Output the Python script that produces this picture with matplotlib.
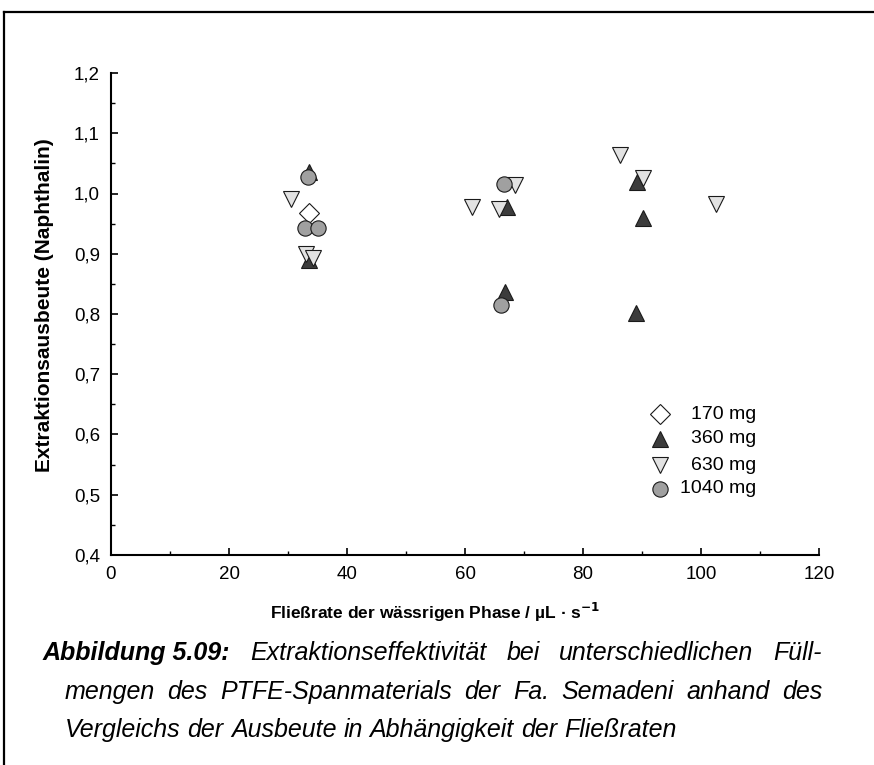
import matplotlib
matplotlib.use("Agg")
import matplotlib.pyplot as plt
from matplotlib.lines import Line2D
from matplotlib.ticker import MultipleLocator, FuncFormatter

# Flow rate (µL/s) and extraction yield for each filling quantity
x_170 = [33.6]
y_170 = [0.968]

x_360 = [33.6, 33.6, 67.1, 66.8, 89.2, 90.2, 89.0]
y_360 = [1.035, 0.890, 0.978, 0.836, 1.019, 0.959, 0.802]

x_630 = [30.5, 33.0, 34.2, 61.2, 65.8, 68.5, 86.3, 90.2, 102.5]
y_630 = [0.991, 0.900, 0.893, 0.978, 0.974, 1.014, 1.064, 1.026, 0.983]

x_1040 = [33.4, 32.9, 35.1, 66.6, 66.1]
y_1040 = [1.027, 0.943, 0.943, 1.016, 0.815]

series_labels = ["170 mg", "360 mg", "630 mg", "1040 mg"]

NARROW = ["Liberation Sans Narrow", "Liberation Sans", "DejaVu Sans"]
REGULAR = ["Liberation Sans", "DejaVu Sans"]

W, H = 874, 765
fig = plt.figure(figsize=(W / 100, H / 100), dpi=100)

def fx(px):
    return px / W

def fy(py):
    return 1 - py / H

ax = fig.add_axes([fx(111), fy(555), fx(819) - fx(111), fy(73) - fy(555)])

edge = "#1a1a1a"
styles = [
    dict(marker="D", ms=10.0, mfc="white", mec=edge),
    dict(marker="^", ms=12.0, mfc="#3c3c3c", mec=edge),
    dict(marker="v", ms=12.0, mfc="#e2e2e2", mec=edge),
    dict(marker="o", ms=11.0, mfc="#a0a0a0", mec=edge),
]
data = [(x_170, y_170), (x_360, y_360), (x_630, y_630), (x_1040, y_1040)]
for (xs, ys), st in zip(data, styles):
    ax.plot(xs, ys, ls="none", mew=0.8, **st)

ax.set_xlim(0, 120)
ax.set_ylim(0.4, 1.2)
ax.xaxis.set_major_locator(MultipleLocator(20))
ax.xaxis.set_minor_locator(MultipleLocator(10))
ax.yaxis.set_major_locator(MultipleLocator(0.1))
ax.yaxis.set_minor_locator(MultipleLocator(0.05))
ax.yaxis.set_major_formatter(FuncFormatter(lambda v, p: f"{v:.1f}".replace(".", ",")))
ax.xaxis.set_major_formatter(FuncFormatter(lambda v, p: f"{v:.0f}"))

for s in ["top", "right"]:
    ax.spines[s].set_visible(False)
for s in ["left", "bottom"]:
    ax.spines[s].set_linewidth(1.5)

ax.tick_params(which="major", direction="in", length=5, width=1.2, labelsize=13.5, pad=8)
ax.tick_params(which="minor", direction="in", length=3, width=1.0)
for lab in ax.get_xticklabels() + ax.get_yticklabels():
    lab.set_family(NARROW)

# Legend: markers in one column, labels right-aligned
leg_rows = [0.2925, 0.2407, 0.1867, 0.137]
for st, lab, yr in zip(styles, series_labels, leg_rows):
    ax.plot([0.775], [yr], transform=ax.transAxes, ls="none", mew=0.8,
            clip_on=False, **st)
    ax.text(0.912, yr, lab, transform=ax.transAxes, ha="right", va="center",
            fontsize=14, family=REGULAR)

fig.text(fx(45), fy(305), "Extraktionsausbeute (Naphthalin)", rotation=90,
         ha="center", va="center", fontsize=15, fontweight="bold", family=REGULAR)
fig.text(fx(435), fy(612), "Fließrate der wässrigen Phase / µL · s$^{\\mathbf{-1}}$",
         ha="center", va="center", fontsize=12.5, fontweight="bold", family=REGULAR)

# Outer frame
fig.add_artist(Line2D([fx(4), fx(4)], [fy(12), 0], color="black", lw=1.6))
fig.add_artist(Line2D([fx(4), 1], [fy(12), fy(12)], color="black", lw=1.6))

# Justified caption
fig.canvas.draw()
renderer = fig.canvas.get_renderer()
cap_size = 18

def draw_line(tokens, y_px, x0_px, x1_px, justify=True):
    arts = []
    for txt, bold in tokens:
        t = fig.text(0, fy(y_px), txt, fontsize=cap_size, style="italic",
                     fontweight="bold" if bold else "normal", family=NARROW,
                     va="center", ha="left")
        arts.append(t)
    widths = [a.get_window_extent(renderer).width for a in arts]
    space = fig.text(0, 0, "a a", fontsize=cap_size, style="italic", family=NARROW)
    aa = fig.text(0, 0, "aa", fontsize=cap_size, style="italic", family=NARROW)
    sp = space.get_window_extent(renderer).width - aa.get_window_extent(renderer).width
    space.remove()
    aa.remove()
    if justify and len(arts) > 1:
        gap = (x1_px - x0_px - sum(widths)) / (len(arts) - 1)
    else:
        gap = sp
    x = x0_px
    for a, w in zip(arts, widths):
        a.set_x(fx(x))
        x += w + gap

draw_line([("Abbildung 5.09:", True), ("Extraktionseffektivität", False), ("bei", False),
           ("unterschiedlichen", False), ("Füll-", False)], 653, 43, 822)
draw_line([(w, False) for w in "mengen des PTFE-Spanmaterials der Fa. Semadeni anhand des".split()],
          692, 65, 822)
draw_line([(w, False) for w in "Vergleichs der Ausbeute in Abhängigkeit der Fließraten".split()],
          730, 65, 822, justify=False)

fig.savefig("out.png", dpi=100)
